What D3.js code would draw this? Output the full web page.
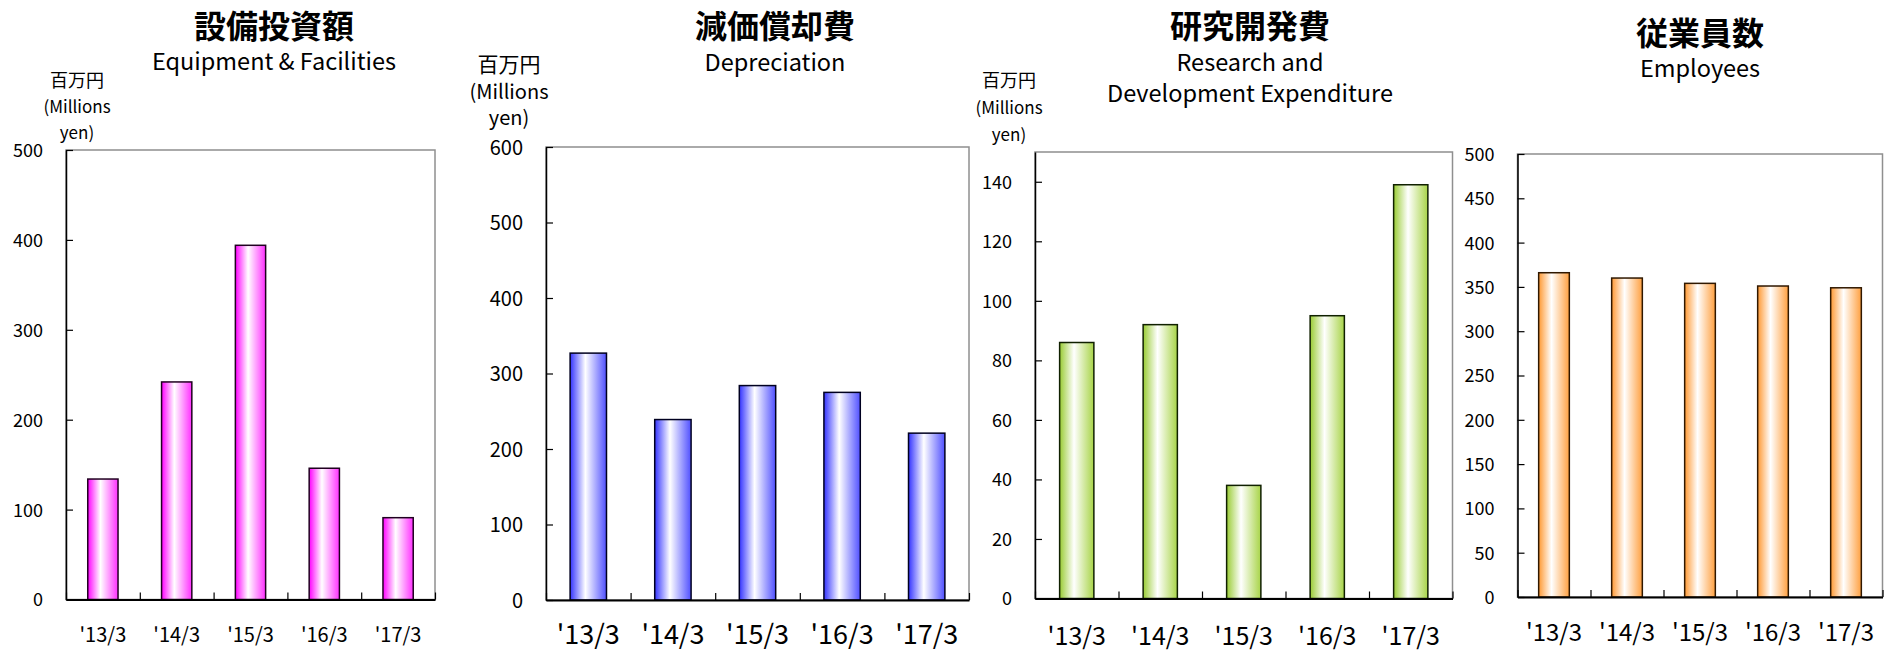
<!DOCTYPE html>
<html>
<head>
<meta charset="utf-8">
<script src="https://cdn.jsdelivr.net/npm/d3@7"></script>
<style>
  body { margin: 0; background: #fff; }
  svg { display: block; }
  text { font-family: 'Noto Sans CJK JP', sans-serif; fill: #000; }
</style>
</head>
<body>
<svg id="chart" width="1888" height="653"></svg>
<script>
// data
const categories = ["'13/3", "'14/3", "'15/3", "'16/3", "'17/3"]
const equipmentValues = [134, 242, 394, 146, 91]
const depreciationValues = [327, 239, 284, 275, 221]
const rndValues = [86, 92, 38, 95, 139]
const employeeValues = [366, 360, 354, 351, 349]

const equipmentTicks = [0, 100, 200, 300, 400, 500]
const depreciationTicks = [0, 100, 200, 300, 400, 500, 600]
const rndTicks = [0, 20, 40, 60, 80, 100, 120, 140]
const employeeTicks = [0, 50, 100, 150, 200, 250, 300, 350, 400, 450, 500]

const titlesJa = ['設備投資額', '減価償却費', '研究開発費', '従業員数']
const titlesEn = [['Equipment & Facilities'], ['Depreciation'], ['Research and', 'Development Expenditure'], ['Employees']]
const unitLines = ['百万円', '(Millions', 'yen)']

const svg = d3.select('#chart')
const defs = svg.append('defs')

const panels = [
  {
    id: 'equip', values: equipmentValues, ticks: equipmentTicks, max: 500,
    color: '#ff00ff', colorR: '#ff30ff', stroke: '#200020',
    left: 66, right: 435, top: 150, bottom: 599.5,
    titleX: 274, titleY: 37.5, subY: [70], subSize: 23.5,
    unit: true, unitX: 77, unitY: [87, 113, 139], unitJa: 18, unitEn: 17,
    tickFont: 18, labelFont: 20, labelDy: 42, bar: 0.41
  },
  {
    id: 'depr', values: depreciationValues, ticks: depreciationTicks, max: 600,
    color: '#3333ff', colorR: '#5050ff', stroke: '#000020',
    left: 546, right: 969, top: 147, bottom: 600,
    titleX: 775, titleY: 38, subY: [71], subSize: 23.5,
    unit: true, unitX: 509, unitY: [72, 99, 125], unitJa: 21, unitEn: 20,
    tickFont: 20, labelFont: 27, labelDy: 44, bar: 0.43
  },
  {
    id: 'rnd', values: rndValues, ticks: rndTicks, max: 150,
    color: '#99cc33', colorR: '#a8d448', stroke: '#102000',
    left: 1035, right: 1452.5, top: 152, bottom: 598.5,
    titleX: 1250, titleY: 38, subY: [71, 102], subSize: 23.5,
    unit: true, unitX: 1009, unitY: [87, 114, 141], unitJa: 18, unitEn: 17,
    tickFont: 18, labelFont: 25, labelDy: 46, bar: 0.41
  },
  {
    id: 'emp', values: employeeValues, ticks: employeeTicks, max: 500,
    color: '#ff9933', colorR: '#ffa040', stroke: '#301800',
    left: 1517.5, right: 1882.5, top: 154, bottom: 597,
    titleX: 1700, titleY: 44.5, subY: [77], subSize: 23.5,
    unit: false,
    tickFont: 18, labelFont: 24, labelDy: 44, bar: 0.42
  }
]

panels.forEach((p, i) => drawPanel(p, i))

function drawPanel (p, i) {
  const w = p.right - p.left
  const h = p.bottom - p.top

  const grad = defs.append('linearGradient')
    .attr('id', 'grad-' + p.id)
    .attr('x1', 0).attr('x2', 1).attr('y1', 0).attr('y2', 0)
  grad.append('stop').attr('offset', '0%').attr('stop-color', p.color)
  grad.append('stop').attr('offset', '42%').attr('stop-color', '#ffffff')
  grad.append('stop').attr('offset', '100%').attr('stop-color', p.colorR)

  // titles
  svg.append('text')
    .attr('x', p.titleX).attr('y', p.titleY)
    .attr('text-anchor', 'middle')
    .style('font-size', '32px').style('font-weight', 700)
    .text(titlesJa[i])

  titlesEn[i].forEach((line, j) => {
    svg.append('text')
      .attr('x', p.titleX).attr('y', p.subY[j])
      .attr('text-anchor', 'middle')
      .style('font-size', p.subSize + 'px')
      .text(line)
  })

  if (p.unit) {
    unitLines.forEach((line, j) => {
      svg.append('text')
        .attr('x', p.unitX).attr('y', p.unitY[j])
        .attr('text-anchor', 'middle')
        .style('font-size', (j === 0 ? p.unitJa : p.unitEn) + 'px')
        .text(line)
    })
  }

  const g = svg.append('g').attr('transform', `translate(${p.left},${p.top})`)

  const x = d3.scaleBand()
    .domain(categories)
    .range([0, w])
    .paddingInner(1 - p.bar)
    .paddingOuter((1 - p.bar) / 2)

  const xEdges = d3.scaleLinear().domain([0, categories.length]).range([0, w])

  const y = d3.scaleLinear().domain([0, p.max]).range([h, 0])

  // frame (top/right in grey)
  g.append('rect')
    .attr('width', w).attr('height', h)
    .attr('fill', 'none')
    .attr('stroke', '#8f8f8f')
    .attr('stroke-width', 1.5)

  g.selectAll('rect.bar')
    .data(p.values)
    .enter().append('rect')
    .attr('class', 'bar')
    .attr('x', (d, k) => x(categories[k]))
    .attr('y', d => y(d))
    .attr('width', x.bandwidth())
    .attr('height', d => h - y(d))
    .attr('fill', `url(#grad-${p.id})`)
    .attr('stroke', p.stroke)
    .attr('stroke-width', 1.5)

  const yAxis = g.append('g')
    .call(d3.axisLeft(y).tickValues(p.ticks).tickSize(-7).tickSizeOuter(0).tickPadding(23))
  yAxis.select('.domain').attr('stroke', '#000').attr('stroke-width', 1.5)
  yAxis.selectAll('line').attr('stroke', '#000').attr('stroke-width', 1.2)
  yAxis.selectAll('text').style('font-size', p.tickFont + 'px').attr('dy', '0.36em')

  const edgeAxis = g.append('g')
    .attr('transform', `translate(0,${h})`)
    .call(d3.axisBottom(xEdges).tickValues(d3.range(categories.length + 1)).tickSize(-7).tickSizeOuter(0).tickFormat(''))
  edgeAxis.select('.domain').attr('stroke', '#000').attr('stroke-width', 2)
  edgeAxis.selectAll('line').attr('stroke', '#000').attr('stroke-width', 1.2)

  const xAxis = g.append('g')
    .attr('transform', `translate(0,${h})`)
    .call(d3.axisBottom(x).tickSize(0).tickPadding(p.labelDy))
  xAxis.select('.domain').remove()
  xAxis.selectAll('text').style('font-size', p.labelFont + 'px').attr('dy', '0em')
}
</script>
</body>
</html>
